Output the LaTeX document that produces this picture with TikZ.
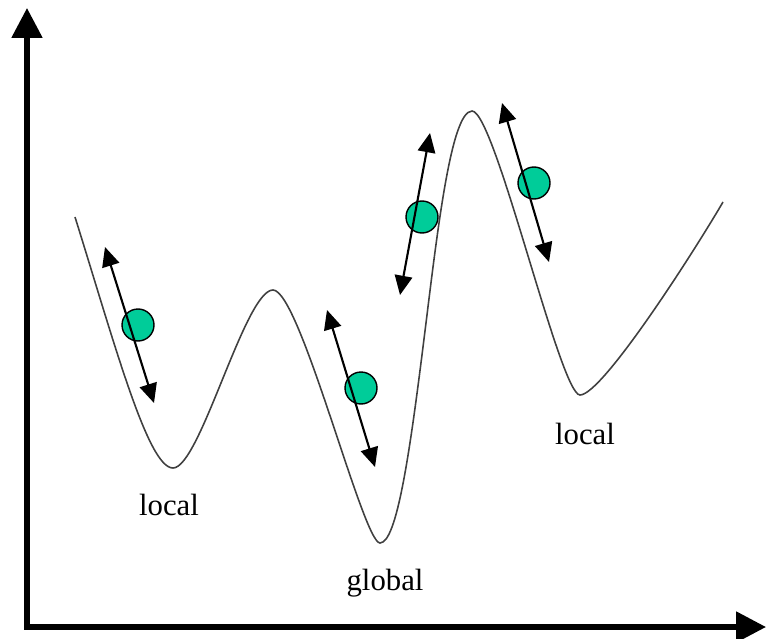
\documentclass[tikz,border=0pt]{standalone}
\usepackage{fontspec}
\setmainfont{Liberation Serif}
\usetikzlibrary{arrows.meta}

\definecolor{ballgreen}{RGB}{0,204,153}

\begin{document}
\begin{tikzpicture}[x=0.02cm,y=-0.02cm,
 axis/.style={line width=3pt,-{Triangle[length=17pt,width=17pt]}},
 curve/.style={line width=0.9pt,black!75},
 ball/.style={circle,draw,line width=0.8pt,fill=ballgreen,minimum size=0.64cm,inner sep=0pt},
 move/.style={line width=1.2pt,{Triangle[length=11pt,width=10pt]}-{Triangle[length=11pt,width=10pt]}},
 lbl/.style={anchor=base,font=\fontsize{17.5}{20}\selectfont}]
\useasboundingbox (0,0) rectangle (766,638);
% axes
\coordinate (O) at (27,627);
\coordinate (ytip) at (27,8);
\coordinate (xtip) at (766,627);
\draw[axis] ([yshift=-1.5pt]O) -- (ytip);
\draw[axis] ([xshift=-1.5pt]O) -- (xtip);
% energy landscape
\coordinate (start) at (75,217);
\coordinate (min1) at (173,468);
\coordinate (max1) at (273,290);
\coordinate (min2) at (380,543);
\coordinate (infl) at (423,347);
\coordinate (max2) at (472,111);
\coordinate (min3) at (580,395);
\coordinate (end) at (723,202);
\draw[curve] (start) .. controls (115,345) and (148,468) .. (min1)
 .. controls (200,468) and (245,290) .. (max1)
 .. controls (300,290) and (363,543) .. (min2)
 .. controls (397,543) and (410,450) .. (infl)
 .. controls (436,244) and (450,111) .. (max2)
 .. controls (495,111) and (560,395) .. (min3)
 .. controls (602,395) and (692,255) .. (end);
% balls
\node[ball] (b1) at (138,325) {};
\node[ball] (b2) at (361,388) {};
\node[ball] (b3) at (422,217) {};
\node[ball] (b4) at (534,183) {};
\coordinate (b1u) at (105,247); \coordinate (b1d) at (154,403);
\coordinate (b2u) at (327,310); \coordinate (b2d) at (375,467);
\coordinate (b3u) at (430,133); \coordinate (b3d) at (400,295);
\coordinate (b4u) at (502,103); \coordinate (b4d) at (549,262);
\foreach \b in {b1,b2,b3,b4}
 \draw[move] (\b u) -- (\b d);
% labels
\node[lbl] (loc1) at (169,515) {local};
\node[lbl] (glob) at (385,590) {global};
\node[lbl] (loc2) at (585,444) {local};
\end{tikzpicture}
\end{document}
